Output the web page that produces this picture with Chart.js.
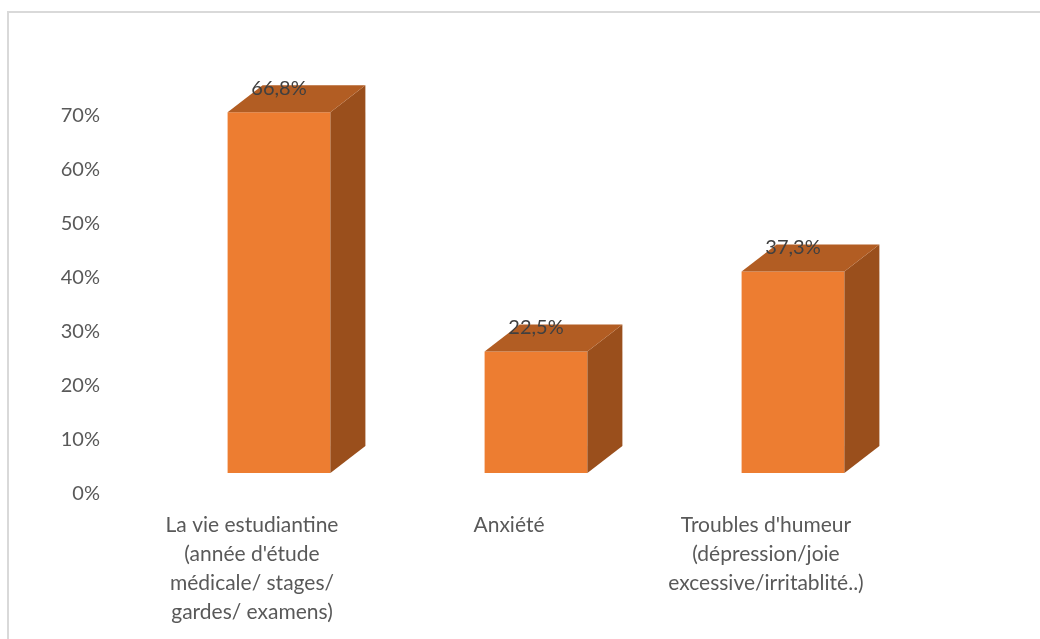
<!DOCTYPE html>
<html lang="fr">
<head>
<meta charset="utf-8">
<title>Facteurs</title>
<script src="https://cdn.jsdelivr.net/npm/chart.js@4/dist/chart.umd.min.js"></script>
<style>
    html, body { margin: 0; padding: 0; background: #ffffff; }
    #wrap { width: 1040px; height: 639px; }
</style>
</head>
<body>
<div id="wrap"><canvas id="chart" width="1040" height="639"></canvas></div>
<script>
// Données
const categories = [
    ['La vie estudiantine', "(année d'étude", 'médicale/ stages/', 'gardes/ examens)'],
    ['Anxiété'],
    ["Troubles d'humeur", '(dépression/joie', 'excessive/irritablité..)']
];
const values = [66.8, 22.5, 37.3];
const yTicks = [0, 10, 20, 30, 40, 50, 60, 70];

const FONT = 'Lato, "Open Sans", sans-serif';
const TEXT = '#595959';

// Effet 3D façon Excel
const shift = { x: 27, y: -21 };
const depth = { x: 35, y: -27 };
const colors = { front: '#ED7D31', top: '#B25D23', side: '#9A4F1C' };

const frame3d = {
    id: 'frame3d',
    beforeDraw(chart) {
        const ctx = chart.ctx;
        ctx.save();
        ctx.strokeStyle = '#D9D9D9';
        ctx.lineWidth = 2;
        ctx.strokeRect(8, 12, 1100, 700);
        ctx.restore();
    },
    beforeDatasetsDraw(chart) {
        chart.ctx.save();
        chart.ctx.translate(shift.x, shift.y);
    },
    afterDatasetsDraw(chart) {
        const ctx = chart.ctx;
        const meta = chart.getDatasetMeta(0);
        meta.data.forEach(bar => {
            const l = bar.x - bar.width / 2;
            const r = bar.x + bar.width / 2;
            // face latérale
            ctx.fillStyle = colors.side;
            ctx.beginPath();
            ctx.moveTo(r, bar.y);
            ctx.lineTo(r + depth.x, bar.y + depth.y);
            ctx.lineTo(r + depth.x, bar.base + depth.y);
            ctx.lineTo(r, bar.base);
            ctx.closePath();
            ctx.fill();
            // face du dessus
            ctx.fillStyle = colors.top;
            ctx.beginPath();
            ctx.moveTo(l, bar.y);
            ctx.lineTo(l + depth.x, bar.y + depth.y);
            ctx.lineTo(r + depth.x, bar.y + depth.y);
            ctx.lineTo(r, bar.y);
            ctx.closePath();
            ctx.fill();
        });
        // étiquettes de valeur
        ctx.fillStyle = '#404040';
        ctx.font = '20px ' + FONT;
        ctx.textAlign = 'center';
        ctx.textBaseline = 'middle';
        meta.data.forEach((bar, i) => {
            const txt = values[i].toFixed(1).replace('.', ',') + '%';
            ctx.fillText(txt, bar.x, bar.y - 24);
        });
        ctx.restore();
    }
};

new Chart(document.getElementById('chart'), {
    type: 'bar',
    data: {
        labels: categories,
        datasets: [{
            data: values,
            backgroundColor: colors.front,
            borderWidth: 0,
            barPercentage: 0.4,
            categoryPercentage: 1
        }]
    },
    options: {
        responsive: false,
        animation: false,
        events: [],
        layout: { padding: { left: 0, right: 145.5, top: 116, bottom: 0 } },
        plugins: {
            legend: { display: false },
            tooltip: { enabled: false }
        },
        scales: {
            x: {
                grid: { display: false, drawTicks: false },
                border: { display: false },
                ticks: {
                    color: TEXT,
                    font: { family: FONT, size: 21, lineHeight: 1.38 },
                    padding: 16.5,
                    maxRotation: 0,
                    autoSkip: false
                },
                afterFit(scale) { scale.height = 145; }
            },
            y: {
                min: 0,
                max: 70,
                grid: { display: false, drawTicks: false },
                border: { display: false },
                afterBuildTicks(scale) { scale.ticks = yTicks.map(v => ({ value: v })); },
                ticks: {
                    color: TEXT,
                    font: { family: FONT, size: 20 },
                    padding: 23.5,
                    callback: v => v + '%'
                },
                afterFit(scale) { scale.width = 123.5; }
            }
        }
    },
    plugins: [frame3d]
});
</script>
</body>
</html>
